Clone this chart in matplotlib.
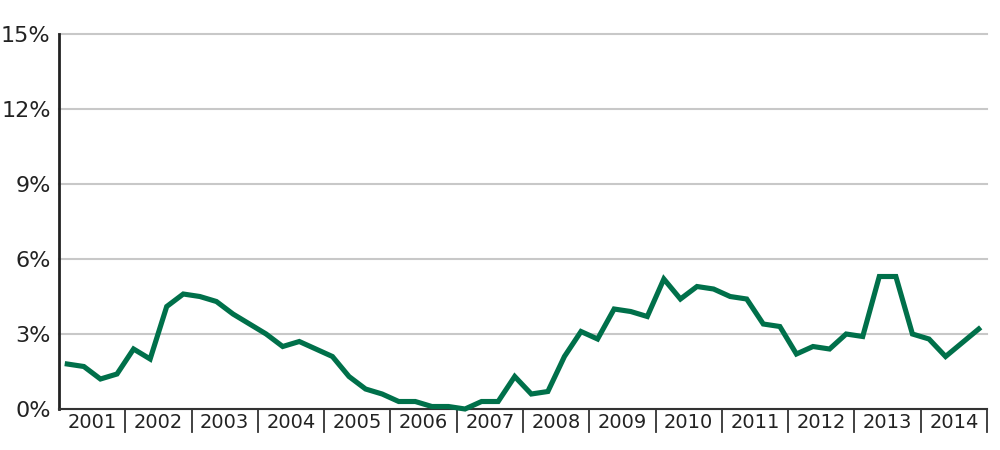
import matplotlib
matplotlib.use("Agg")
import matplotlib.pyplot as plt
import matplotlib.transforms as mtransforms

years = [str(y) for y in range(2001, 2015)]
values = [1.8, 1.7, 1.2, 1.4,
          2.4, 2.0, 4.1, 4.6,
          4.5, 4.3, 3.8, 3.4,
          3.0, 2.5, 2.7, 2.4,
          2.1, 1.3, 0.8, 0.6,
          0.3, 0.3, 0.1, 0.1,
          0.0, 0.3, 0.3, 1.3,
          0.6, 0.7, 2.1, 3.1,
          2.8, 4.0, 3.9, 3.7,
          5.2, 4.4, 4.9, 4.8,
          4.5, 4.4, 3.4, 3.3,
          2.2, 2.5, 2.4, 3.0,
          2.9, 5.3, 5.3, 3.0,
          2.8, 2.1, 2.65, 3.2]
yticks = [0, 3, 6, 9, 12, 15]
ytick_labels = ["0%", "3%", "6%", "9%", "12%", "15%"]

fig = plt.figure(figsize=(10, 4.5), dpi=100)
ax = fig.add_axes([0.059, 0.0911, 0.928, 0.8333])

x = list(range(len(values)))
ax.plot(x, values, color="#00704A", linewidth=3.7, solid_joinstyle="miter",
        zorder=3, clip_on=False)

ax.set_xlim(-0.5, len(values) - 0.5)
ax.set_ylim(0, 15)
ax.set_yticks(yticks)
ax.set_yticklabels(ytick_labels, fontsize=16, color="#222222")
ax.tick_params(axis="y", length=0, pad=6)
ax.set_xticks([])

ax.grid(axis="y", color="#c8c8c8", linewidth=1.5)
for gl in ax.get_ygridlines():
    gl.set_clip_on(False)
ax.set_axisbelow(True)
for s in ["top", "right"]:
    ax.spines[s].set_visible(False)
ax.spines["left"].set_color("#222222")
ax.spines["left"].set_linewidth(2)
ax.spines["bottom"].set_color("#333333")
ax.spines["bottom"].set_linewidth(1.5)

trans = mtransforms.blended_transform_factory(ax.transData, ax.transAxes)
for i, yr in enumerate(years):
    ax.text(4 * i + 1.5, -0.036, yr, transform=trans, ha="center", va="center",
            fontsize=14, color="#222222")
    xb = 4 * i + 3.5
    ax.plot([xb, xb], [0, -0.062], transform=trans, color="#333333",
            linewidth=1.3, clip_on=False)

fig.savefig("out.png", dpi=100)
